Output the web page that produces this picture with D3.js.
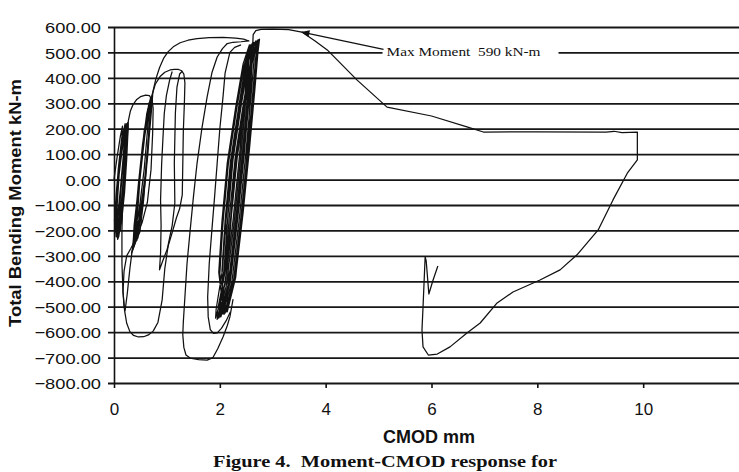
<!DOCTYPE html>
<html>
<head>
<meta charset="utf-8">
<script src="https://cdn.jsdelivr.net/npm/d3@7"></script>
<style>
  body { margin: 0; background: #fff; }
  svg { display: block; }
</style>
</head>
<body>
<script>
// Moment-CMOD response, [CMOD mm, moment kN-m]

// small cycles, +/-200
var loopsA = [[0.00,0],[0.06,90],[0.12,170],[0.16,210],[0.15,170],[0.09,60],[0.04,-60],[0.01,-160],[0.02,-205],
  [0.06,-160],[0.12,-40],[0.17,80],[0.21,180],[0.22,215],[0.18,160],[0.10,60],[0.05,-50],[0.02,-170],[0.04,-225],
  [0.10,-170],[0.16,-40],[0.21,90],[0.24,190],[0.24,220],[0.19,170],[0.11,70],[0.06,-40],[0.03,-160],[0.05,-215],
  [0.11,-150],[0.17,-20],[0.22,120],[0.25,200],[0.23,215],[0.16,150],[0.09,50],[0.05,-80],[0.04,-190],[0.07,-235],
  [0.13,-180],[0.19,-60],[0.23,70],[0.26,180],[0.26,225],[0.20,180],[0.13,80],[0.07,-30],[0.04,-150],[0.06,-220],
  [0.12,-200],[0.18,-90],[0.22,40],[0.25,160],[0.27,215],[0.22,200],[0.14,110],[0.08,0],[0.05,-130],[0.07,-210],
  [0.10,-190],[0.15,-70],[0.20,60],[0.23,170],[0.25,210],[0.20,170],[0.12,90],[0.06,-20],[0.03,-140],[0.04,-200],
  [0.09,-150],[0.14,-20],[0.19,100],[0.22,190],[0.21,220],[0.15,160],[0.08,40],[0.04,-90],[0.03,-180],[0.08,-230],
  [0.14,-170],[0.20,-50],[0.24,80],[0.26,170],[0.24,205],[0.17,140],[0.10,30],[0.06,-100],[0.05,-200],[0.09,-225],
  [0.13,-160],[0.19,-30],[0.24,110],[0.27,200],[0.27,230]];

// first excursion to +330 and the dip to -520
var cap330 = [[0.27,230],[0.31,270],[0.36,295],[0.43,315],[0.50,326],[0.60,332],[0.67,330],[0.72,312],[0.74,280],
  [0.73,180],[0.70,40],[0.63,-90],[0.53,-170],[0.42,-230],[0.32,-270],[0.24,-300],[0.19,-360],[0.17,-440],[0.19,-500],
  [0.21,-515],[0.25,-450],[0.30,-350],[0.34,-285],[0.42,-240],[0.49,-205],[0.56,-80],[0.62,80],[0.67,220],[0.71,310]];

// cycles +330 / -300
var loopsB = [[0.71,310],[0.62,250],[0.52,100],[0.45,-50],[0.38,-180],[0.36,-260],
  [0.45,-200],[0.56,-60],[0.64,100],[0.69,240],[0.71,320],[0.64,280],[0.55,150],[0.48,0],[0.41,-150],[0.37,-240],
  [0.46,-170],[0.57,-20],[0.65,140],[0.70,270],[0.72,325],[0.66,300],[0.57,190],[0.49,40],[0.42,-110],[0.35,-270],[0.33,-290],
  [0.43,-230],[0.54,-90],[0.62,80],[0.68,230],[0.70,310],[0.63,270],[0.54,140],[0.46,-20],[0.40,-160],[0.39,-230],
  [0.48,-160],[0.58,-10],[0.66,160],[0.71,280],[0.73,330],[0.67,290],[0.58,170],[0.50,20],[0.43,-130],[0.40,-220],
  [0.49,-140],[0.59,20],[0.66,170],[0.70,290],[0.68,300],[0.60,230],[0.52,90],[0.45,-60],[0.41,-190],[0.43,-240],
  [0.51,-150],[0.60,10],[0.67,180],[0.72,300],[0.65,270],[0.56,140],[0.47,-10],[0.41,-140],[0.38,-210],
  [0.47,-130],[0.57,40],[0.64,210],[0.69,320],[0.62,260],[0.53,120],[0.46,-30],[0.42,-170],[0.45,-230],
  [0.52,-120],[0.61,50],[0.67,200],[0.71,310],[0.66,280],[0.57,160],[0.49,0],[0.44,-150],[0.43,-215]];

// -610 trough rising to the +430 plateau
var loop610 = [[0.20,150],[0.17,-50],[0.15,-200],[0.15,-330],[0.17,-440],[0.20,-515],[0.24,-565],
  [0.30,-598],[0.37,-613],[0.46,-619],[0.56,-618],[0.65,-611],[0.74,-596],[0.83,-562],[0.91,-473],[0.96,-350],
  [1.03,-250],[1.10,-180],[1.15,-92],[1.14,65],[1.16,262],[1.19,364],[1.24,415],[1.29,426]];

// +430 cycle with the reversal at -355
var loop430 = [[0.62,200],[0.66,280],[0.70,320],[0.78,375],[0.87,405],[0.96,422],[1.06,431],[1.14,433],[1.22,433],
  [1.28,428],[1.32,415],[1.34,380],[1.33,300],[1.31,190],[1.30,60],[1.29,-60],[1.24,-115],[1.18,-150],[1.09,-215],
  [1.00,-277],[0.92,-320],[0.86,-355],[0.88,-290],[0.89,-180],[0.88,-80],[0.90,60],[0.93,183],[0.95,260],
  [0.99,330],[1.05,390],[1.10,425]];

// +560 cycle down to -710
var loop700 = [[0.66,200],[0.70,290],[0.74,350],[0.79,395],[0.86,440],[0.94,478],[1.02,502],[1.12,522],[1.25,538],
  [1.40,548],[1.57,554],[1.80,558],[2.06,559],[2.30,556],[2.45,552],[2.55,545],[2.40,542],[2.25,540],[2.14,535],
  [2.05,515],[1.95,482],[1.85,420],[1.76,325],[1.66,200],[1.57,65],[1.50,-70],[1.44,-198],[1.38,-330],[1.34,-462],
  [1.31,-560],[1.30,-610],[1.32,-660],[1.36,-690],[1.44,-702],[1.60,-708],[1.76,-710],[1.87,-700],[1.96,-665],
  [2.06,-619],[2.14,-575],[2.19,-540],[2.25,-470]];

// inner cycle down to -605
var loop600 = [[2.40,530],[2.28,520],[2.19,500],[2.10,420],[2.06,325],[2.00,200],[1.95,65],[1.90,-70],[1.85,-198],
  [1.80,-330],[1.77,-462],[1.78,-540],[1.82,-590],[1.88,-605],[1.95,-603],[2.03,-585],[2.12,-555],[2.20,-520]];

// dense cycles +550 / -550
var loopsC = [[2.05,-530],[2.23,-400],[2.37,-150],[2.49,100],[2.59,330],[2.65,480],[2.68,545],[2.55,470],[2.41,300],[2.25,80],[2.15,-150],[2.08,-350],[2.00,-510],
  [1.98,-545],[2.16,-410],[2.30,-160],[2.42,90],[2.52,320],[2.58,470],[2.61,535],[2.49,460],[2.36,290],[2.20,70],[2.10,-160],[2.04,-360],[2.08,-500],
  [2.10,-525],[2.28,-390],[2.42,-140],[2.54,110],[2.64,340],[2.70,490],[2.73,550],[2.61,480],[2.47,310],[2.31,90],[2.21,-140],[2.12,-340],[1.97,-500],
  [1.95,-550],[2.12,-420],[2.27,-170],[2.39,80],[2.49,310],[2.55,470],[2.58,530],[2.46,450],[2.32,280],[2.16,60],[2.06,-170],[2.00,-370],[2.10,-490],
  [2.12,-520],[2.30,-380],[2.44,-130],[2.56,120],[2.66,350],[2.72,500],[2.75,552],[2.63,480],[2.49,310],[2.33,90],[2.22,-140],[2.14,-340],[2.03,-500],
  [2.02,-540],[2.20,-400],[2.34,-150],[2.46,100],[2.56,330],[2.62,480],[2.65,540],[2.53,465],[2.39,295],[2.23,75],[2.12,-155],[2.05,-355],[1.93,-510],
  [1.92,-545],[2.10,-410],[2.25,-160],[2.37,90],[2.47,320],[2.53,470],[2.56,530],[2.44,455],[2.30,285],[2.14,65],[2.04,-165],[1.98,-365],[2.06,-505],
  [2.08,-530],[2.26,-395],[2.40,-145],[2.52,105],[2.62,335],[2.68,485],[2.71,548],[2.59,475],[2.45,305],[2.29,85],[2.18,-145],[2.10,-345],[1.99,-505],
  [2.00,-540],[2.18,-400],[2.32,-150],[2.44,100],[2.54,330],[2.60,480],[2.63,540],[2.51,465],[2.37,295],[2.21,75],[2.11,-155],[2.16,-360],[2.14,-500],
  [2.14,-520],[2.30,-385],[2.42,-135],[2.52,115],[2.58,340],[2.61,480],[2.62,520]];

// final monotonic run past the maximum
var envelope = [[2.62,520],[2.63,570],[2.68,586],[2.78,591],[3.00,592],[3.30,590],[3.55,580],[3.80,545],[4.03,510],
  [4.59,392],[5.16,285],[6.00,250],[6.67,207],[6.98,187],[8.00,188],[9.30,187],[9.45,190],[9.60,185],[9.89,187],
  [9.89,77],[9.70,25],[9.43,-80],[9.15,-198],[8.75,-296],[8.43,-355],[8.05,-395],[7.54,-442],[7.24,-485],
  [6.92,-564],[6.67,-603],[6.35,-658],[6.11,-686],[5.94,-690],[5.84,-658],[5.82,-591],[5.84,-501],[5.88,-304],
  [5.90,-320],[5.95,-450],[6.03,-395],[6.12,-340]];

var series = [loopsA, cap330, loopsB, loop610, loop430, loop700, loop600, loopsC, envelope];

var yTicks = d3.range(600, -801, -100);
var xTicks = [0, 2, 4, 6, 8, 10];
var maxMoment = [3.55, 580];   // arrow tip
var noteAt = [5.15, 500];      // label position

var width = 739, height = 472;

var x = d3.scaleLinear().domain([0, 12]).range([114, 749]);
var y = d3.scaleLinear().domain([-800, 600]).range([383, 27]);

var svg = d3.select("body").append("svg")
    .attr("width", width)
    .attr("height", height)
    .style("background", "#fff");

// y axis with full-width gridlines
var gy = svg.append("g")
    .attr("transform", "translate(" + x(0) + ",0)")
    .call(d3.axisLeft(y)
        .tickValues(yTicks)
        .tickSize(-(width - x(0)))
        .tickSizeOuter(0)
        .tickFormat(d3.format(".2f")));

gy.select(".domain").attr("stroke", "#111").attr("stroke-width", 1.6);
gy.selectAll(".tick line")
    .attr("x1", -6)
    .attr("stroke", "#161616")
    .attr("stroke-width", 1.8);
gy.selectAll(".tick text")
    .attr("x", 0)
    .attr("dy", "0.36em")
    .attr("transform", "translate(-13,0) scale(1.18,1)")
    .attr("text-anchor", "end")
    .style("font-family", "'Liberation Sans', Arial, sans-serif")
    .style("font-size", "15.5px")
    .attr("fill", "#111");

// x axis: ticks only, the -800 gridline is the baseline
var gx = svg.append("g")
    .attr("transform", "translate(0," + y(-800) + ")")
    .call(d3.axisBottom(x)
        .tickValues(xTicks)
        .tickSize(5)
        .tickPadding(15)
        .tickFormat(d3.format("d")));

gx.select(".domain").remove();
gx.selectAll(".tick line").attr("stroke", "#111").attr("stroke-width", 1.6);
gx.selectAll(".tick text")
    .style("font-family", "'Liberation Sans', Arial, sans-serif")
    .style("font-size", "17px")
    .attr("fill", "#111");

// response curve
var line = d3.line()
    .x(function (d) { return x(d[0]); })
    .y(function (d) { return y(d[1]); });

svg.append("g")
    .selectAll("path")
    .data(series)
    .enter().append("path")
    .attr("d", line)
    .attr("fill", "none")
    .attr("stroke", "#111")
    .attr("stroke-width", 1.25)
    .attr("stroke-linejoin", "round");

// annotation
svg.append("defs").append("marker")
    .attr("id", "head")
    .attr("viewBox", "0 0 10 10")
    .attr("refX", 9).attr("refY", 5)
    .attr("markerWidth", 9).attr("markerHeight", 7)
    .attr("orient", "auto")
    .append("path")
    .attr("d", "M0,1 L10,5 L0,9 Z")
    .attr("fill", "#111");

svg.append("rect")
    .attr("x", x(noteAt[0]) - 4)
    .attr("y", y(noteAt[1]) - 8)
    .attr("width", 176)
    .attr("height", 15)
    .attr("fill", "#fff");

svg.append("line")
    .attr("x1", x(noteAt[0]) - 3)
    .attr("y1", y(noteAt[1]) - 3)
    .attr("x2", x(maxMoment[0]))
    .attr("y2", y(maxMoment[1]))
    .attr("stroke", "#111")
    .attr("stroke-width", 1.2)
    .attr("marker-end", "url(#head)");

svg.append("text")
    .attr("x", x(noteAt[0]))
    .attr("y", y(noteAt[1]) + 4)
    .attr("textLength", 154)
    .attr("lengthAdjust", "spacingAndGlyphs")
    .style("white-space", "pre")
    .style("font-family", "'Liberation Serif', 'Times New Roman', serif")
    .style("font-size", "13.5px")
    .attr("fill", "#111")
    .text("Max Moment  590 kN-m");

// axis titles
svg.append("text")
    .attr("transform", "translate(21," + 203 + ") rotate(-90) scale(1.15,1)")
    .attr("text-anchor", "middle")
    .style("font-family", "'Liberation Sans', Arial, sans-serif")
    .style("font-weight", "bold")
    .style("font-size", "16px")
    .attr("fill", "#111")
    .text("Total Bending Moment kN-m");

svg.append("text")
    .attr("x", 429)
    .attr("y", 443)
    .attr("text-anchor", "middle")
    .style("font-family", "'Liberation Sans', Arial, sans-serif")
    .style("font-weight", "bold")
    .style("font-size", "18px")
    .attr("fill", "#111")
    .text("CMOD mm");

svg.append("text")
    .attr("x", 213)
    .attr("y", 467)
    .attr("textLength", 344)
    .attr("lengthAdjust", "spacingAndGlyphs")
    .style("white-space", "pre")
    .style("font-family", "'Liberation Serif', 'Times New Roman', serif")
    .style("font-weight", "bold")
    .style("font-size", "16px")
    .attr("fill", "#111")
    .text("Figure 4.  Moment-CMOD response for");
</script>
</body>
</html>
